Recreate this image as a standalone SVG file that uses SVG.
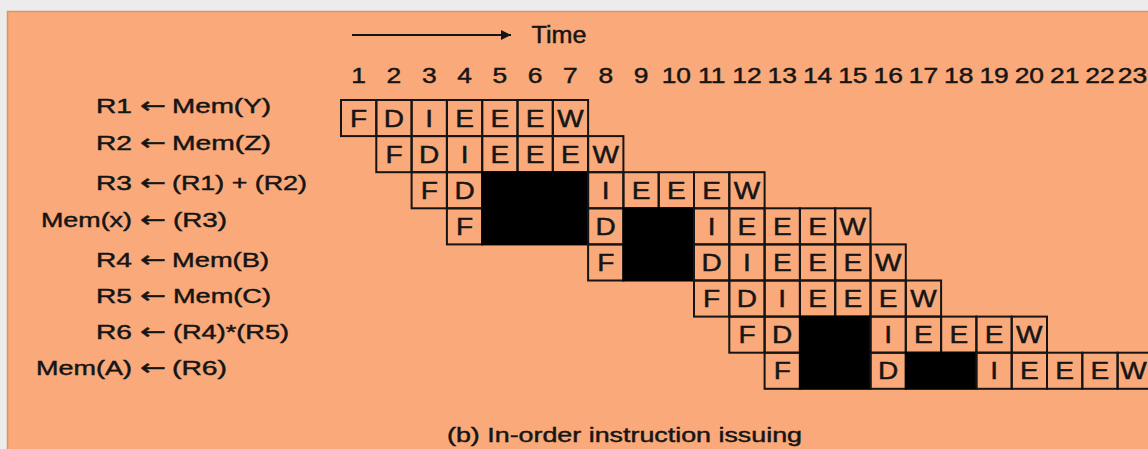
<svg xmlns="http://www.w3.org/2000/svg" width="1148" height="449" viewBox="0 0 1148 449">
<style>
text{font-family:"Liberation Sans",Arial,sans-serif;fill:#151515;stroke:#151515;stroke-width:0.45}
.lab{font-size:21px}
.arr{font-family:"DejaVu Sans",sans-serif;font-size:22px}
.num{font-size:22px;text-anchor:middle}
.let{font-size:23px;text-anchor:middle}
.c{fill:none;stroke:#151515;stroke-width:2}
.b{fill:#000;stroke:#000;stroke-width:2}
</style>
<defs>
<marker id="ah" viewBox="0 0 10 10" refX="10" refY="5" markerWidth="20" markerHeight="10" markerUnits="userSpaceOnUse" orient="auto">
<path d="M0,0 L10,5 L0,10 z" fill="#151515"/>
</marker>
</defs>
<rect x="0" y="0" width="1148" height="449" fill="#ececec"/>
<rect x="7.5" y="11.5" width="1150" height="450" fill="#f9a97a" stroke="#e4905f" stroke-width="1.5"/>

<g id="axis">
<text x="531.5" y="43" font-size="23" textLength="55" lengthAdjust="spacingAndGlyphs">Time</text>
<text class="num" transform="translate(358.65,83) scale(1.2,1)">1</text>
<text class="num" transform="translate(393.95,83) scale(1.2,1)">2</text>
<text class="num" transform="translate(429.25,83) scale(1.2,1)">3</text>
<text class="num" transform="translate(464.55,83) scale(1.2,1)">4</text>
<text class="num" transform="translate(499.85,83) scale(1.2,1)">5</text>
<text class="num" transform="translate(535.15,83) scale(1.2,1)">6</text>
<text class="num" transform="translate(570.45,83) scale(1.2,1)">7</text>
<text class="num" transform="translate(605.75,83) scale(1.2,1)">8</text>
<text class="num" transform="translate(641.05,83) scale(1.2,1)">9</text>
<text class="num" transform="translate(676.35,83) scale(1.2,1)">10</text>
<text class="num" transform="translate(711.65,83) scale(1.2,1)">11</text>
<text class="num" transform="translate(746.95,83) scale(1.2,1)">12</text>
<text class="num" transform="translate(782.25,83) scale(1.2,1)">13</text>
<text class="num" transform="translate(817.55,83) scale(1.2,1)">14</text>
<text class="num" transform="translate(852.85,83) scale(1.2,1)">15</text>
<text class="num" transform="translate(888.15,83) scale(1.2,1)">16</text>
<text class="num" transform="translate(923.45,83) scale(1.2,1)">17</text>
<text class="num" transform="translate(958.75,83) scale(1.2,1)">18</text>
<text class="num" transform="translate(994.05,83) scale(1.2,1)">19</text>
<text class="num" transform="translate(1029.35,83) scale(1.2,1)">20</text>
<text class="num" transform="translate(1064.65,83) scale(1.2,1)">21</text>
<text class="num" transform="translate(1099.95,83) scale(1.2,1)">22</text>
<text class="num" transform="translate(1132.5,83) scale(1.2,1)">23</text>
</g>

<g id="connectors">
<line x1="352" y1="35" x2="511" y2="35" stroke="#151515" stroke-width="2.2" marker-end="url(#ah)"/>
</g>

<g id="instr1">
<text class="lab" x="96" y="113" textLength="36" lengthAdjust="spacingAndGlyphs">R1</text>
<text class="arr" x="140" y="113" textLength="26" lengthAdjust="spacingAndGlyphs">←</text>
<text class="lab" x="172" y="113" textLength="99" lengthAdjust="spacingAndGlyphs">Mem(Y)</text>
<rect class="c" x="341" y="100" width="35.3" height="36.1"/>
<rect class="c" x="376.3" y="100" width="35.3" height="36.1"/>
<rect class="c" x="411.6" y="100" width="35.3" height="36.1"/>
<rect class="c" x="446.9" y="100" width="35.3" height="36.1"/>
<rect class="c" x="482.2" y="100" width="35.3" height="36.1"/>
<rect class="c" x="517.5" y="100" width="35.3" height="36.1"/>
<rect class="c" x="552.8" y="100" width="35.3" height="36.1"/>
<text class="let" transform="translate(358.65,126.5) scale(1.22,1)">F</text>
<text class="let" transform="translate(393.95,126.5) scale(1.22,1)">D</text>
<text class="let" transform="translate(429.25,126.5) scale(1.22,1)">I</text>
<text class="let" transform="translate(464.55,126.5) scale(1.22,1)">E</text>
<text class="let" transform="translate(499.85,126.5) scale(1.22,1)">E</text>
<text class="let" transform="translate(535.15,126.5) scale(1.22,1)">E</text>
<text class="let" transform="translate(570.45,126.5) scale(1.22,1)">W</text>
</g>

<g id="instr2">
<text class="lab" x="96" y="150" textLength="36" lengthAdjust="spacingAndGlyphs">R2</text>
<text class="arr" x="140" y="150" textLength="26" lengthAdjust="spacingAndGlyphs">←</text>
<text class="lab" x="172" y="150" textLength="99" lengthAdjust="spacingAndGlyphs">Mem(Z)</text>
<rect class="c" x="376.3" y="136.1" width="35.3" height="36.1"/>
<rect class="c" x="411.6" y="136.1" width="35.3" height="36.1"/>
<rect class="c" x="446.9" y="136.1" width="35.3" height="36.1"/>
<rect class="c" x="482.2" y="136.1" width="35.3" height="36.1"/>
<rect class="c" x="517.5" y="136.1" width="35.3" height="36.1"/>
<rect class="c" x="552.8" y="136.1" width="35.3" height="36.1"/>
<rect class="c" x="588.1" y="136.1" width="35.3" height="36.1"/>
<text class="let" transform="translate(393.95,162.6) scale(1.22,1)">F</text>
<text class="let" transform="translate(429.25,162.6) scale(1.22,1)">D</text>
<text class="let" transform="translate(464.55,162.6) scale(1.22,1)">I</text>
<text class="let" transform="translate(499.85,162.6) scale(1.22,1)">E</text>
<text class="let" transform="translate(535.15,162.6) scale(1.22,1)">E</text>
<text class="let" transform="translate(570.45,162.6) scale(1.22,1)">E</text>
<text class="let" transform="translate(605.75,162.6) scale(1.22,1)">W</text>
</g>

<g id="instr3">
<text class="lab" x="96" y="190" textLength="36" lengthAdjust="spacingAndGlyphs">R3</text>
<text class="arr" x="140" y="190" textLength="26" lengthAdjust="spacingAndGlyphs">←</text>
<text class="lab" x="172" y="190" textLength="135" lengthAdjust="spacingAndGlyphs">(R1) + (R2)</text>
<rect class="c" x="411.6" y="172.2" width="35.3" height="36.1"/>
<rect class="c" x="446.9" y="172.2" width="35.3" height="36.1"/>
<rect class="b" x="482.2" y="172.2" width="105.9" height="36.1"/>
<rect class="c" x="588.1" y="172.2" width="35.3" height="36.1"/>
<rect class="c" x="623.4" y="172.2" width="35.3" height="36.1"/>
<rect class="c" x="658.7" y="172.2" width="35.3" height="36.1"/>
<rect class="c" x="694" y="172.2" width="35.3" height="36.1"/>
<rect class="c" x="729.3" y="172.2" width="35.3" height="36.1"/>
<text class="let" transform="translate(429.25,198.7) scale(1.22,1)">F</text>
<text class="let" transform="translate(464.55,198.7) scale(1.22,1)">D</text>
<text class="let" transform="translate(605.75,198.7) scale(1.22,1)">I</text>
<text class="let" transform="translate(641.05,198.7) scale(1.22,1)">E</text>
<text class="let" transform="translate(676.35,198.7) scale(1.22,1)">E</text>
<text class="let" transform="translate(711.65,198.7) scale(1.22,1)">E</text>
<text class="let" transform="translate(746.95,198.7) scale(1.22,1)">W</text>
</g>

<g id="instr4">
<text class="lab" x="41" y="227" textLength="91" lengthAdjust="spacingAndGlyphs">Mem(x)</text>
<text class="arr" x="140" y="227" textLength="26" lengthAdjust="spacingAndGlyphs">←</text>
<text class="lab" x="173" y="227" textLength="54" lengthAdjust="spacingAndGlyphs">(R3)</text>
<rect class="c" x="446.9" y="208.3" width="35.3" height="36.1"/>
<rect class="b" x="482.2" y="208.3" width="105.9" height="36.1"/>
<rect class="c" x="588.1" y="208.3" width="35.3" height="36.1"/>
<rect class="b" x="623.4" y="208.3" width="70.6" height="36.1"/>
<rect class="c" x="694" y="208.3" width="35.3" height="36.1"/>
<rect class="c" x="729.3" y="208.3" width="35.3" height="36.1"/>
<rect class="c" x="764.6" y="208.3" width="35.3" height="36.1"/>
<rect class="c" x="799.9" y="208.3" width="35.3" height="36.1"/>
<rect class="c" x="835.2" y="208.3" width="35.3" height="36.1"/>
<text class="let" transform="translate(464.55,234.8) scale(1.22,1)">F</text>
<text class="let" transform="translate(605.75,234.8) scale(1.22,1)">D</text>
<text class="let" transform="translate(711.65,234.8) scale(1.22,1)">I</text>
<text class="let" transform="translate(746.95,234.8) scale(1.22,1)">E</text>
<text class="let" transform="translate(782.25,234.8) scale(1.22,1)">E</text>
<text class="let" transform="translate(817.55,234.8) scale(1.22,1)">E</text>
<text class="let" transform="translate(852.85,234.8) scale(1.22,1)">W</text>
</g>

<g id="instr5">
<text class="lab" x="96" y="266.5" textLength="36" lengthAdjust="spacingAndGlyphs">R4</text>
<text class="arr" x="140" y="266.5" textLength="26" lengthAdjust="spacingAndGlyphs">←</text>
<text class="lab" x="172" y="266.5" textLength="97" lengthAdjust="spacingAndGlyphs">Mem(B)</text>
<rect class="c" x="588.1" y="244.4" width="35.3" height="36.1"/>
<rect class="b" x="623.4" y="244.4" width="70.6" height="36.1"/>
<rect class="c" x="694" y="244.4" width="35.3" height="36.1"/>
<rect class="c" x="729.3" y="244.4" width="35.3" height="36.1"/>
<rect class="c" x="764.6" y="244.4" width="35.3" height="36.1"/>
<rect class="c" x="799.9" y="244.4" width="35.3" height="36.1"/>
<rect class="c" x="835.2" y="244.4" width="35.3" height="36.1"/>
<rect class="c" x="870.5" y="244.4" width="35.3" height="36.1"/>
<text class="let" transform="translate(605.75,270.9) scale(1.22,1)">F</text>
<text class="let" transform="translate(711.65,270.9) scale(1.22,1)">D</text>
<text class="let" transform="translate(746.95,270.9) scale(1.22,1)">I</text>
<text class="let" transform="translate(782.25,270.9) scale(1.22,1)">E</text>
<text class="let" transform="translate(817.55,270.9) scale(1.22,1)">E</text>
<text class="let" transform="translate(852.85,270.9) scale(1.22,1)">E</text>
<text class="let" transform="translate(888.15,270.9) scale(1.22,1)">W</text>
</g>

<g id="instr6">
<text class="lab" x="96" y="303" textLength="36" lengthAdjust="spacingAndGlyphs">R5</text>
<text class="arr" x="140" y="303" textLength="26" lengthAdjust="spacingAndGlyphs">←</text>
<text class="lab" x="173" y="303" textLength="98" lengthAdjust="spacingAndGlyphs">Mem(C)</text>
<rect class="c" x="694" y="280.5" width="35.3" height="36.1"/>
<rect class="c" x="729.3" y="280.5" width="35.3" height="36.1"/>
<rect class="c" x="764.6" y="280.5" width="35.3" height="36.1"/>
<rect class="c" x="799.9" y="280.5" width="35.3" height="36.1"/>
<rect class="c" x="835.2" y="280.5" width="35.3" height="36.1"/>
<rect class="c" x="870.5" y="280.5" width="35.3" height="36.1"/>
<rect class="c" x="905.8" y="280.5" width="35.3" height="36.1"/>
<text class="let" transform="translate(711.65,307) scale(1.22,1)">F</text>
<text class="let" transform="translate(746.95,307) scale(1.22,1)">D</text>
<text class="let" transform="translate(782.25,307) scale(1.22,1)">I</text>
<text class="let" transform="translate(817.55,307) scale(1.22,1)">E</text>
<text class="let" transform="translate(852.85,307) scale(1.22,1)">E</text>
<text class="let" transform="translate(888.15,307) scale(1.22,1)">E</text>
<text class="let" transform="translate(923.45,307) scale(1.22,1)">W</text>
</g>

<g id="instr7">
<text class="lab" x="96" y="339" textLength="36" lengthAdjust="spacingAndGlyphs">R6</text>
<text class="arr" x="140" y="339" textLength="26" lengthAdjust="spacingAndGlyphs">←</text>
<text class="lab" x="173" y="339" textLength="116" lengthAdjust="spacingAndGlyphs">(R4)*(R5)</text>
<rect class="c" x="729.3" y="316.6" width="35.3" height="36.1"/>
<rect class="c" x="764.6" y="316.6" width="35.3" height="36.1"/>
<rect class="b" x="799.9" y="316.6" width="70.6" height="36.1"/>
<rect class="c" x="870.5" y="316.6" width="35.3" height="36.1"/>
<rect class="c" x="905.8" y="316.6" width="35.3" height="36.1"/>
<rect class="c" x="941.1" y="316.6" width="35.3" height="36.1"/>
<rect class="c" x="976.4" y="316.6" width="35.3" height="36.1"/>
<rect class="c" x="1011.7" y="316.6" width="35.3" height="36.1"/>
<text class="let" transform="translate(746.95,343.1) scale(1.22,1)">F</text>
<text class="let" transform="translate(782.25,343.1) scale(1.22,1)">D</text>
<text class="let" transform="translate(888.15,343.1) scale(1.22,1)">I</text>
<text class="let" transform="translate(923.45,343.1) scale(1.22,1)">E</text>
<text class="let" transform="translate(958.75,343.1) scale(1.22,1)">E</text>
<text class="let" transform="translate(994.05,343.1) scale(1.22,1)">E</text>
<text class="let" transform="translate(1029.35,343.1) scale(1.22,1)">W</text>
</g>

<g id="instr8">
<text class="lab" x="36" y="375" textLength="96" lengthAdjust="spacingAndGlyphs">Mem(A)</text>
<text class="arr" x="140" y="375" textLength="26" lengthAdjust="spacingAndGlyphs">←</text>
<text class="lab" x="172" y="375" textLength="55" lengthAdjust="spacingAndGlyphs">(R6)</text>
<rect class="c" x="764.6" y="352.7" width="35.3" height="36.1"/>
<rect class="b" x="799.9" y="352.7" width="70.6" height="36.1"/>
<rect class="c" x="870.5" y="352.7" width="35.3" height="36.1"/>
<rect class="b" x="905.8" y="352.7" width="70.6" height="36.1"/>
<rect class="c" x="976.4" y="352.7" width="35.3" height="36.1"/>
<rect class="c" x="1011.7" y="352.7" width="35.3" height="36.1"/>
<rect class="c" x="1047" y="352.7" width="35.3" height="36.1"/>
<rect class="c" x="1082.3" y="352.7" width="35.3" height="36.1"/>
<rect class="c" x="1117.6" y="352.7" width="35.3" height="36.1"/>
<text class="let" transform="translate(782.25,379.2) scale(1.22,1)">F</text>
<text class="let" transform="translate(888.15,379.2) scale(1.22,1)">D</text>
<text class="let" transform="translate(994.05,379.2) scale(1.22,1)">I</text>
<text class="let" transform="translate(1029.35,379.2) scale(1.22,1)">E</text>
<text class="let" transform="translate(1064.65,379.2) scale(1.22,1)">E</text>
<text class="let" transform="translate(1099.95,379.2) scale(1.22,1)">E</text>
<text class="let" transform="translate(1133.5,379.2) scale(1.22,1)">W</text>
</g>

<g id="caption">
<text x="447" y="441.5" font-size="21" textLength="355" lengthAdjust="spacingAndGlyphs">(b) In-order instruction issuing</text>
</g>
</svg>
